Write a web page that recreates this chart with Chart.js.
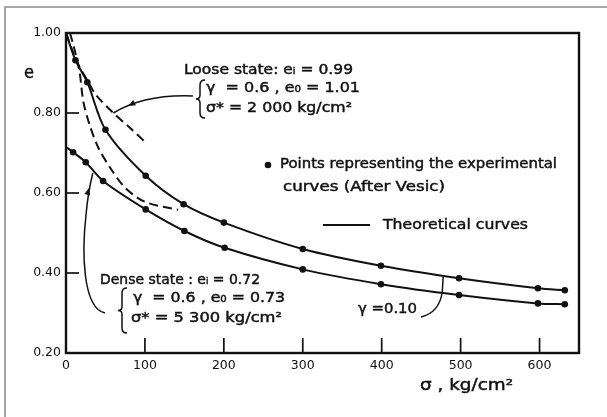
<!DOCTYPE html>
<html>
<head>
<meta charset="utf-8">
<script src="https://cdn.jsdelivr.net/npm/chart.js@4.4.0/dist/chart.umd.min.js"></script>
<style>
  body { margin: 0; background: #fff; }
  canvas { display: block; }
</style>
</head>
<body>
<canvas id="voidChart" width="607" height="417"></canvas>
<script>
// sigma in kg/cm2, e = void ratio
const looseSigma = [12, 27, 50, 101, 149, 200, 300, 399, 498, 598, 632];
const looseE = [0.932, 0.877, 0.758, 0.643, 0.572, 0.526, 0.460, 0.418, 0.387, 0.362, 0.357];
const denseSigma = [9, 25, 47, 101, 150, 201, 300, 399, 498, 598, 632];
const denseE = [0.702, 0.677, 0.630, 0.559, 0.505, 0.463, 0.409, 0.372, 0.345, 0.324, 0.322];

// theoretical curves (gamma = 0.10) begin at sigma = 0
const looseStartE = 1.00;
const denseStartE = 0.715;

// gamma = 0.6 curves (dashed)
const loose06Sigma = [0, 13, 28, 38, 60, 81, 100];
const loose06E = [1.00, 0.932, 0.878, 0.845, 0.800, 0.763, 0.728];
const steepSigma = [5, 10, 17, 22, 30, 41, 56, 75, 100, 142];
const steepE = [1.00, 0.965, 0.905, 0.828, 0.770, 0.713, 0.663, 0.613, 0.578, 0.558];

const xTicks = [0, 100, 200, 300, 400, 500, 600];
const yTicks = [0.20, 0.40, 0.60, 0.80, 1.00];

const FONT = '"DejaVu Sans", sans-serif';

function toPoints(xs, ys) {
    return xs.map((x, i) => ({ x: x, y: ys[i] }));
}

// writes text stretched to a given width, slightly heavier than the plain face
function fitText(ctx, text, x, y, width, size) {
    ctx.font = size + 'px ' + FONT;
    const w0 = ctx.measureText(text).width;
    ctx.save();
    ctx.translate(x, y);
    ctx.scale(width / w0, 1);
    ctx.lineWidth = 0.45;
    ctx.strokeStyle = ctx.fillStyle;
    ctx.fillText(text, 0, 0);
    ctx.strokeText(text, 0, 0);
    ctx.restore();
}

function drawBrace(ctx, x, top, bottom) {
    const mid = (top + bottom) / 2;
    ctx.beginPath();
    ctx.moveTo(x + 5, top);
    ctx.quadraticCurveTo(x, top, x, top + 5);
    ctx.lineTo(x, mid - 4);
    ctx.quadraticCurveTo(x, mid, x - 4, mid);
    ctx.quadraticCurveTo(x, mid, x, mid + 4);
    ctx.lineTo(x, bottom - 5);
    ctx.quadraticCurveTo(x, bottom, x + 5, bottom);
    ctx.stroke();
}

function arrowHead(ctx, x, y, angle) {
    ctx.save();
    ctx.translate(x, y);
    ctx.rotate(angle);
    ctx.beginPath();
    ctx.moveTo(0, 0);
    ctx.lineTo(-7, -3);
    ctx.lineTo(-7, 3);
    ctx.closePath();
    ctx.fill();
    ctx.restore();
}

// frame, inward ticks, titles and notes
const decorPlugin = {
    id: 'decor',
    afterDraw(chart) {
        const ctx = chart.ctx;
        const a = chart.chartArea;
        const xs = chart.scales.x;
        const ys = chart.scales.y;
        ctx.save();

        // outer grey frame
        ctx.strokeStyle = '#8c8c8c';
        ctx.lineWidth = 1.5;
        ctx.beginPath();
        ctx.moveTo(5, 417);
        ctx.lineTo(5, 7);
        ctx.lineTo(607, 7);
        ctx.stroke();

        // plot box
        ctx.strokeStyle = '#111';
        ctx.lineWidth = 2.4;
        ctx.strokeRect(a.left, a.top, a.right - a.left, a.bottom - a.top);

        // tick marks pointing into the plot
        ctx.lineWidth = 1.7;
        xTicks.slice(1).forEach(v => {
            const px = xs.getPixelForValue(v);
            ctx.beginPath();
            ctx.moveTo(px, a.bottom);
            ctx.lineTo(px, a.bottom - 15);
            ctx.stroke();
        });
        yTicks.slice(1, -1).forEach(v => {
            const py = ys.getPixelForValue(v);
            ctx.beginPath();
            ctx.moveTo(a.left, py);
            ctx.lineTo(a.left + 13, py);
            ctx.stroke();
        });

        ctx.fillStyle = '#111';
        ctx.textBaseline = 'middle';
        ctx.textAlign = 'left';

        // axis titles
        fitText(ctx, 'e', 24, 73, 10, 18);
        fitText(ctx, 'σ , kg/cm²', 420, 386, 93, 15);

        // loose state note
        fitText(ctx, 'Loose state: eᵢ = 0.99', 184, 70, 169, 14);
        fitText(ctx, 'γ  = 0.6 , e₀ = 1.01', 206, 88, 154, 14);
        fitText(ctx, 'σ* = 2 000 kg/cm²', 206, 108, 146, 14);
        ctx.lineWidth = 1.5;
        drawBrace(ctx, 200, 80, 118);

        // arrow to the loose gamma = 0.6 curve
        const lx = xs.getPixelForValue(60), ly = ys.getPixelForValue(0.80);
        ctx.beginPath();
        ctx.moveTo(193, 96);
        ctx.quadraticCurveTo(145, 94, lx, ly);
        ctx.stroke();
        arrowHead(ctx, lx + 15, ly - 7, Math.atan2(8, -15));

        // dense state note
        fitText(ctx, 'Dense state : eᵢ = 0.72', 100, 280, 160, 14);
        fitText(ctx, 'γ  = 0.6 , e₀ = 0.73', 133, 298, 152, 14);
        fitText(ctx, 'σ* = 5 300 kg/cm²', 131, 318, 151, 14);
        drawBrace(ctx, 122, 288, 333);

        // arrow to the dense curves
        const dx = xs.getPixelForValue(34), dy = ys.getPixelForValue(0.65);
        ctx.beginPath();
        ctx.moveTo(105, 313);
        ctx.bezierCurveTo(82, 308, 82, 250, 86, 215);
        ctx.quadraticCurveTo(88, 192, dx, dy);
        ctx.stroke();
        arrowHead(ctx, 89, 188, Math.atan2(-12, 3));

        // gamma = 0.10 pointer touching both solid curves
        const gx = xs.getPixelForValue(478), gy = ys.getPixelForValue(0.393);
        ctx.beginPath();
        ctx.moveTo(gx, gy);
        ctx.lineTo(gx - 1, 292);
        ctx.bezierCurveTo(gx - 3, 306, gx - 10, 314, 421, 317);
        ctx.stroke();
        fitText(ctx, 'γ =0.10', 358, 309, 59, 14);

        // legend
        ctx.beginPath();
        ctx.arc(268, 165, 3.3, 0, Math.PI * 2);
        ctx.fill();
        fitText(ctx, 'Points representing the experimental', 280, 164, 277, 14);
        fitText(ctx, 'curves (After Vesic)', 283, 187, 162, 14);
        ctx.lineWidth = 2;
        ctx.beginPath();
        ctx.moveTo(323, 225);
        ctx.lineTo(370, 225);
        ctx.stroke();
        fitText(ctx, 'Theoretical curves', 383, 225, 145, 14);

        ctx.restore();
    }
};

document.addEventListener('DOMContentLoaded', function() {
    const ctx = document.getElementById('voidChart').getContext('2d');

    const lineStyle = {
        showLine: true,
        borderColor: '#111',
        borderWidth: 2,
        pointRadius: 0,
        tension: 0.3,
        fill: false
    };
    const dotStyle = {
        showLine: false,
        pointRadius: 3.3,
        pointBackgroundColor: '#111',
        pointBorderColor: '#111',
        pointBorderWidth: 0
    };

    new Chart(ctx, {
        type: 'scatter',
        data: {
            datasets: [
                Object.assign({ label: 'Loose points', data: toPoints(looseSigma, looseE) }, dotStyle),
                Object.assign({ label: 'Dense points', data: toPoints(denseSigma, denseE) }, dotStyle),
                Object.assign({ label: 'Loose theory',
                    data: [{ x: 0, y: looseStartE }].concat(toPoints(looseSigma, looseE)) }, lineStyle),
                Object.assign({ label: 'Dense theory',
                    data: [{ x: 0, y: denseStartE }].concat(toPoints(denseSigma, denseE)) }, lineStyle),
                Object.assign({ label: 'Loose gamma 0.6', data: toPoints(loose06Sigma, loose06E),
                    borderDash: [9, 5] }, lineStyle),
                Object.assign({ label: 'Steep gamma 0.6', data: toPoints(steepSigma, steepE),
                    borderDash: [9, 5] }, lineStyle)
            ]
        },
        options: {
            responsive: false,
            animation: false,
            layout: { padding: { top: 33, right: 28, left: 0, bottom: 0 } },
            plugins: {
                legend: { display: false },
                tooltip: { enabled: false }
            },
            scales: {
                x: {
                    type: 'linear',
                    min: 0,
                    max: 650,
                    afterBuildTicks: s => { s.ticks = xTicks.map(v => ({ value: v })); },
                    afterFit: s => { s.height = 64; },
                    grid: { display: false, drawTicks: false },
                    border: { display: false },
                    ticks: {
                        padding: 5,
                        color: '#111',
                        font: { family: FONT, size: 12.5 },
                        maxRotation: 0
                    }
                },
                y: {
                    type: 'linear',
                    min: 0.2,
                    max: 1.0,
                    afterBuildTicks: s => { s.ticks = yTicks.map(v => ({ value: v })); },
                    afterFit: s => { s.width = 66; },
                    grid: { display: false, drawTicks: false },
                    border: { display: false },
                    ticks: {
                        padding: 5,
                        color: '#111',
                        font: { family: FONT, size: 12.5 },
                        callback: v => v.toFixed(2)
                    }
                }
            }
        },
        plugins: [decorPlugin]
    });
});
</script>
</body>
</html>
